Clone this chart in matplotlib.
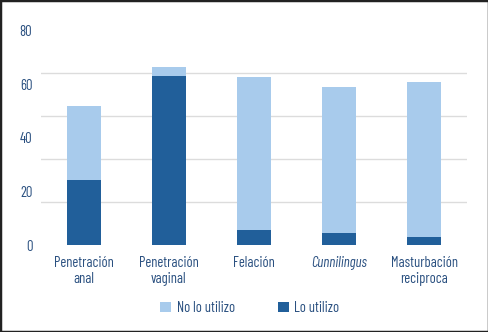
import matplotlib
matplotlib.use("Agg")
import matplotlib.pyplot as plt
from matplotlib.patches import Rectangle
import numpy as np

categories = ["Penetración\nanal", "Penetración\nvaginal", "Felación", "Cunnilingus", "Masturbación\nreciproca"]
lo_utilizo = [24.3, 63.1, 5.7, 4.6, 3.2]
no_lo_utilizo = [27.5, 3.3, 56.9, 54.2, 57.6]
y_ticks = [0, 20, 40, 60, 80]
grid_lines = [0, 16, 32, 48, 64, 80]

plt.rcParams['font.family'] = ['Barlow Condensed', 'DejaVu Sans']

TEXT = "#2a5080"
LIGHT = "#a8cbec"
DARK = "#215f9a"
FS = 10.5

W, H = 489, 332
fig = plt.figure(figsize=(W/100, H/100), dpi=100)
ax = fig.add_axes([41.3/W, (H-245.3)/H, 425.4/W, 215/H])

x = np.arange(len(categories))
ax.bar(x, lo_utilizo, width=0.4, color=DARK, label="Lo utilizo", zorder=3)
ax.bar(x, no_lo_utilizo, width=0.4, bottom=lo_utilizo, color=LIGHT, label="No lo utilizo", zorder=3)

ax.set_xlim(-0.5, len(categories) - 0.5)
ax.set_ylim(0, 80)
ax.set_yticks(y_ticks)
ax.set_yticks(grid_lines, minor=True)
ax.yaxis.grid(True, which='minor', color='#dcdcdc', linewidth=1.0, zorder=0)
ax.yaxis.grid(False, which='major')
ax.tick_params(axis='y', which='both', length=0, labelsize=FS, labelcolor=TEXT, pad=6.5)
ax.set_xticks(x)
ax.set_xticklabels(categories)
ax.tick_params(axis='x', length=0, labelsize=FS, labelcolor=TEXT, pad=8)
for lbl in ax.get_xticklabels():
    lbl.set_linespacing(1.1)
    if lbl.get_text() == "Cunnilingus":
        lbl.set_fontstyle('italic')
for s in ax.spines.values():
    s.set_visible(False)

handles, labels = ax.get_legend_handles_labels()
leg = fig.legend(handles[::-1], labels[::-1], loc='center', bbox_to_anchor=(250/W, 1-308/H),
                 ncol=2, frameon=False, fontsize=FS, handlelength=0.75, handleheight=0.75,
                 columnspacing=2.9, handletextpad=0.4, labelcolor=TEXT,
                 borderpad=0, borderaxespad=0)

fig.patches.append(Rectangle((0, 0), 1, 1, transform=fig.transFigure, fill=False,
                             edgecolor='#222222', linewidth=2.5, zorder=10))

fig.savefig("out.png", dpi=100)
